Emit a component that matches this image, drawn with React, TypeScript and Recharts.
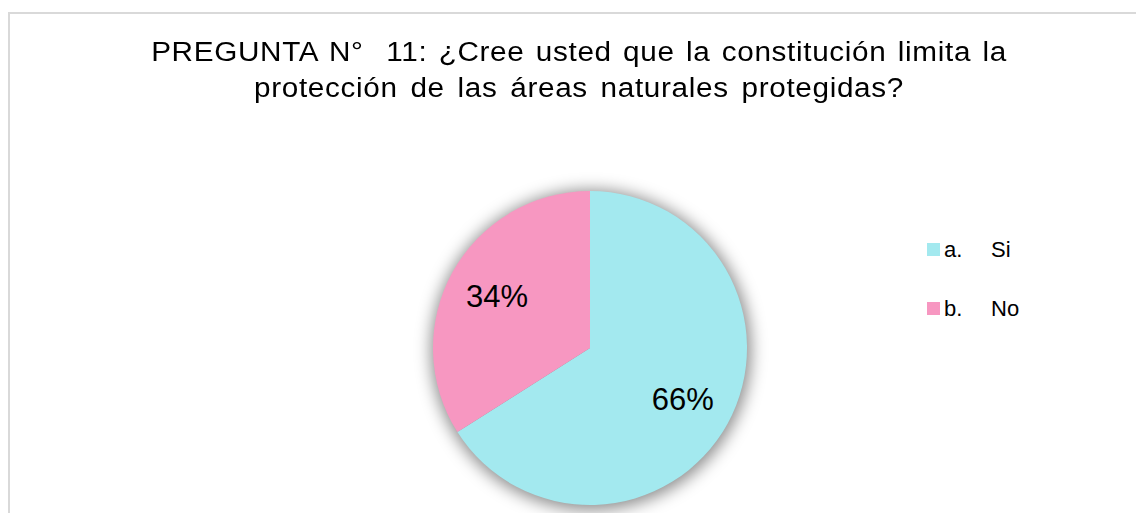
import React from 'react';
import { PieChart, Pie, Cell, Legend } from 'recharts';

const categories = ['a.\tSi', 'b.\tNo'];
const values = [66, 34];
const colors = ['#A3E9EF', '#F797C1'];
const titleLines = [
  'PREGUNTA N°  11: ¿Cree usted que la constitución limita la',
  'protección de las áreas naturales protegidas?',
];
const titleWordSpacing = [2.2, 3.5];

const data = categories.map((name, i) => ({ name, value: values[i] }));
const shadowData = [{ name: 'shadow', value: 1 }];

const FONT = '"Liberation Sans", Arial, sans-serif';
const RADIAN = Math.PI / 180;

const renderLabel = (props: any) => {
  const { cx, cy, midAngle, outerRadius, value } = props;
  const r = outerRadius * 0.675;
  const x = cx + r * Math.cos(-midAngle * RADIAN);
  const y = cy + r * Math.sin(-midAngle * RADIAN);
  return (
    <text x={x} y={y} textAnchor="middle" dominantBaseline="central" fill="#000" fontSize={31} fontFamily={FONT}>
      {`${value}%`}
    </text>
  );
};

const renderLegend = (props: any) => {
  const payload = (props.payload || []).filter((p: any) => categories.includes(p.value));
  return (
    <div style={{ fontFamily: FONT, fontSize: 22, color: '#000' }}>
      {payload.map((p: any, i: number) => {
        const [prefix, rest] = String(p.value).split('\t');
        return (
          <div key={i} style={{ display: 'flex', alignItems: 'center', height: 59 }}>
            <span style={{ display: 'inline-block', width: 13, height: 13, background: p.color, marginRight: 4 }} />
            <span style={{ display: 'inline-block', width: 47 }}>{prefix}</span>
            <span>{rest}</span>
          </div>
        );
      })}
    </div>
  );
};

export default function App() {
  return (
    <div style={{ position: 'fixed', left: 0, top: 0, width: 1136, height: 513, overflow: 'hidden', background: '#fff' }}>
      <svg width={0} height={0} style={{ position: 'absolute' }}>
        <defs>
          <filter id="pieShadow" x="-30%" y="-30%" width="160%" height="160%">
            <feGaussianBlur stdDeviation="8" />
          </filter>
        </defs>
      </svg>
      <div
        style={{
          position: 'absolute',
          left: 8,
          top: 12,
          width: 1300,
          height: 700,
          borderLeft: '2px solid #D9D9D9',
          borderTop: '2px solid #D9D9D9',
        }}
      />
      <div
        style={{
          position: 'absolute',
          left: 79,
          top: 34,
          width: 1000,
          textAlign: 'center',
          fontFamily: FONT,
          fontSize: 27,
          lineHeight: '36px',
          letterSpacing: 0.6,
          color: '#000',
          whiteSpace: 'pre',
          transform: 'scaleX(1.1)',
          transformOrigin: '50% 0',
        }}
      >
        {titleLines.map((t, i) => (
          <div key={i} style={{ wordSpacing: titleWordSpacing[i] }}>{t}</div>
        ))}
      </div>
      <div style={{ position: 'absolute', left: 0, top: 0 }}>
        <PieChart width={1136} height={513} margin={{ top: 0, right: 0, bottom: 0, left: 0 }}>
          <Pie
            data={shadowData}
            dataKey="value"
            cx={591}
            cy={350}
            outerRadius={160}
            startAngle={90}
            endAngle={-270}
            isAnimationActive={false}
            stroke="none"
            legendType="none"
          >
            <Cell fill="#000" fillOpacity={0.45} filter="url(#pieShadow)" />
          </Pie>
          <Pie
            data={data}
            dataKey="value"
            nameKey="name"
            cx={590}
            cy={348}
            outerRadius={157}
            startAngle={90}
            endAngle={-270}
            isAnimationActive={false}
            stroke="none"
            label={renderLabel}
            labelLine={false}
          >
            {data.map((d, i) => (
              <Cell key={d.name} fill={colors[i]} />
            ))}
          </Pie>
          <Legend
            layout="vertical"
            align="right"
            verticalAlign="top"
            content={renderLegend}
            wrapperStyle={{ position: 'absolute', left: 927, top: 220, width: 160 }}
          />
        </PieChart>
      </div>
    </div>
  );
}
